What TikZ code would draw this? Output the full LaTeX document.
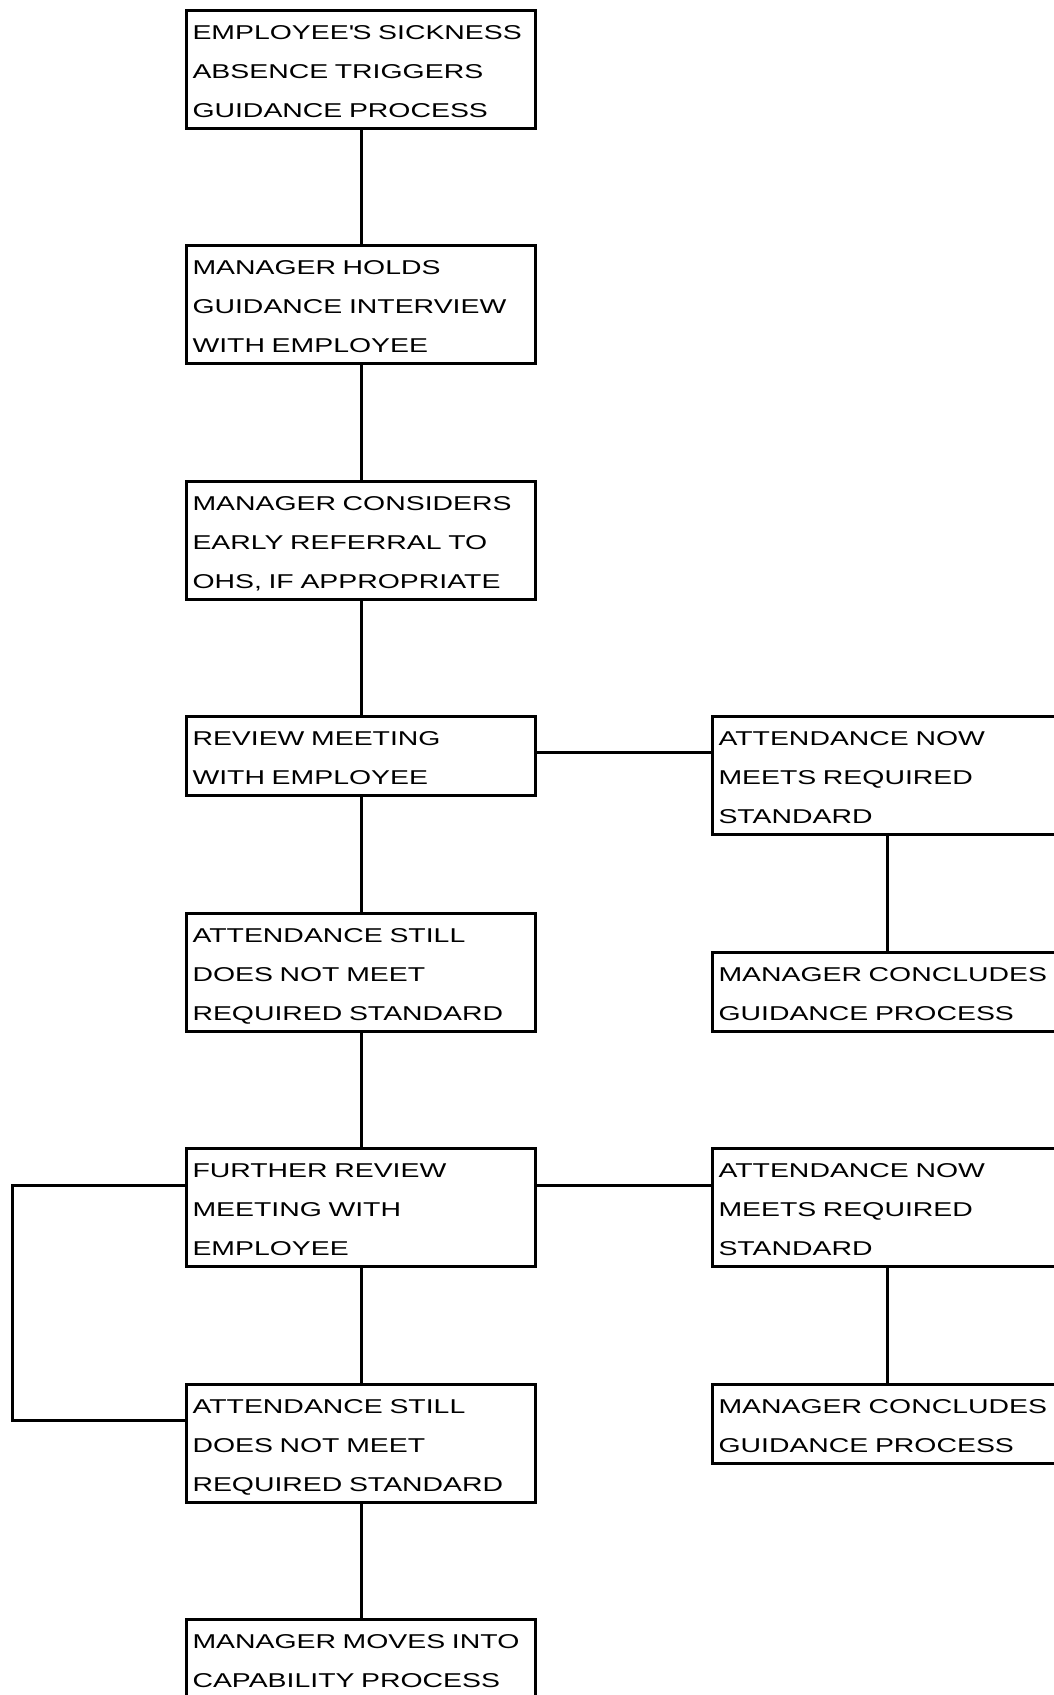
\documentclass[tikz,border=0pt]{standalone}
\usepackage{fontspec}
\setmainfont{Liberation Sans}[FakeStretch=1.42]
\usetikzlibrary{positioning}
\def\gap{114.5pt}
\def\side{174pt}
\tikzset{box/.style={draw,line width=3pt,anchor=north west,text width=337pt,inner xsep=6pt,inner ysep=7pt,
   align=left,text height=22pt,font=\fontsize{20}{39}\selectfont},
  two/.style={text depth=43pt},
  three/.style={text depth=82pt},
  link/.style={line width=3pt}}

\begin{document}
\begin{tikzpicture}
\useasboundingbox[fill=white] (0,0) rectangle (1054pt,-1695pt);
\node[box,three] (b1) at (185pt,-8.6pt) {EMPLOYEE\textquotesingle S SICKNESS\\ABSENCE TRIGGERS\\GUIDANCE PROCESS};
\node[box,three,below=\gap of b1] (b2) {MANAGER HOLDS\\GUIDANCE INTERVIEW\\WITH EMPLOYEE};
\node[box,three,below=\gap of b2] (b3) {MANAGER CONSIDERS\\EARLY REFERRAL TO\\OHS, IF APPROPRIATE};
\node[box,two,below=\gap of b3] (b4) {REVIEW MEETING\\WITH EMPLOYEE};
\node[box,three,below=\gap of b4] (b5) {ATTENDANCE STILL\\DOES NOT MEET\\REQUIRED STANDARD};
\node[box,three,below=\gap of b5] (b6) {FURTHER REVIEW\\MEETING WITH\\EMPLOYEE};
\node[box,three,below=\gap of b6] (b7) {ATTENDANCE STILL\\DOES NOT MEET\\REQUIRED STANDARD};
\node[box,two,below=\gap of b7] (b8) {MANAGER MOVES INTO\\CAPABILITY PROCESS};
  \node[box,three,right=\side of b4.north east,anchor=north west] (r1) {ATTENDANCE NOW\\MEETS REQUIRED\\STANDARD};
  \node[box,two,below=\gap of r1] (r2) {MANAGER CONCLUDES\\GUIDANCE PROCESS};
  \node[box,three,right=\side of b6.north east,anchor=north west] (r3) {ATTENDANCE NOW\\MEETS REQUIRED\\STANDARD};
  \node[box,two,below=\gap of r3] (r4) {MANAGER CONCLUDES\\GUIDANCE PROCESS};
\foreach \a/\b in {b1/b2,b2/b3,b3/b4,b4/b5,b5/b6,b6/b7,b7/b8,r1/r2,r3/r4}
   \draw[link] (\a) -- (\b);
\draw[link] ([yshift=-37pt]b4.north east) -- ([yshift=-37pt]b4.north east -| r1.west);
\draw[link] ([yshift=-38pt]b6.north east) -- ([yshift=-38pt]b6.north east -| r3.west);
\draw[link] ([yshift=-38pt]b6.north west) -- ++(-173pt,0) |- ([yshift=-38pt]b7.north west);
\end{tikzpicture}
\end{document}
